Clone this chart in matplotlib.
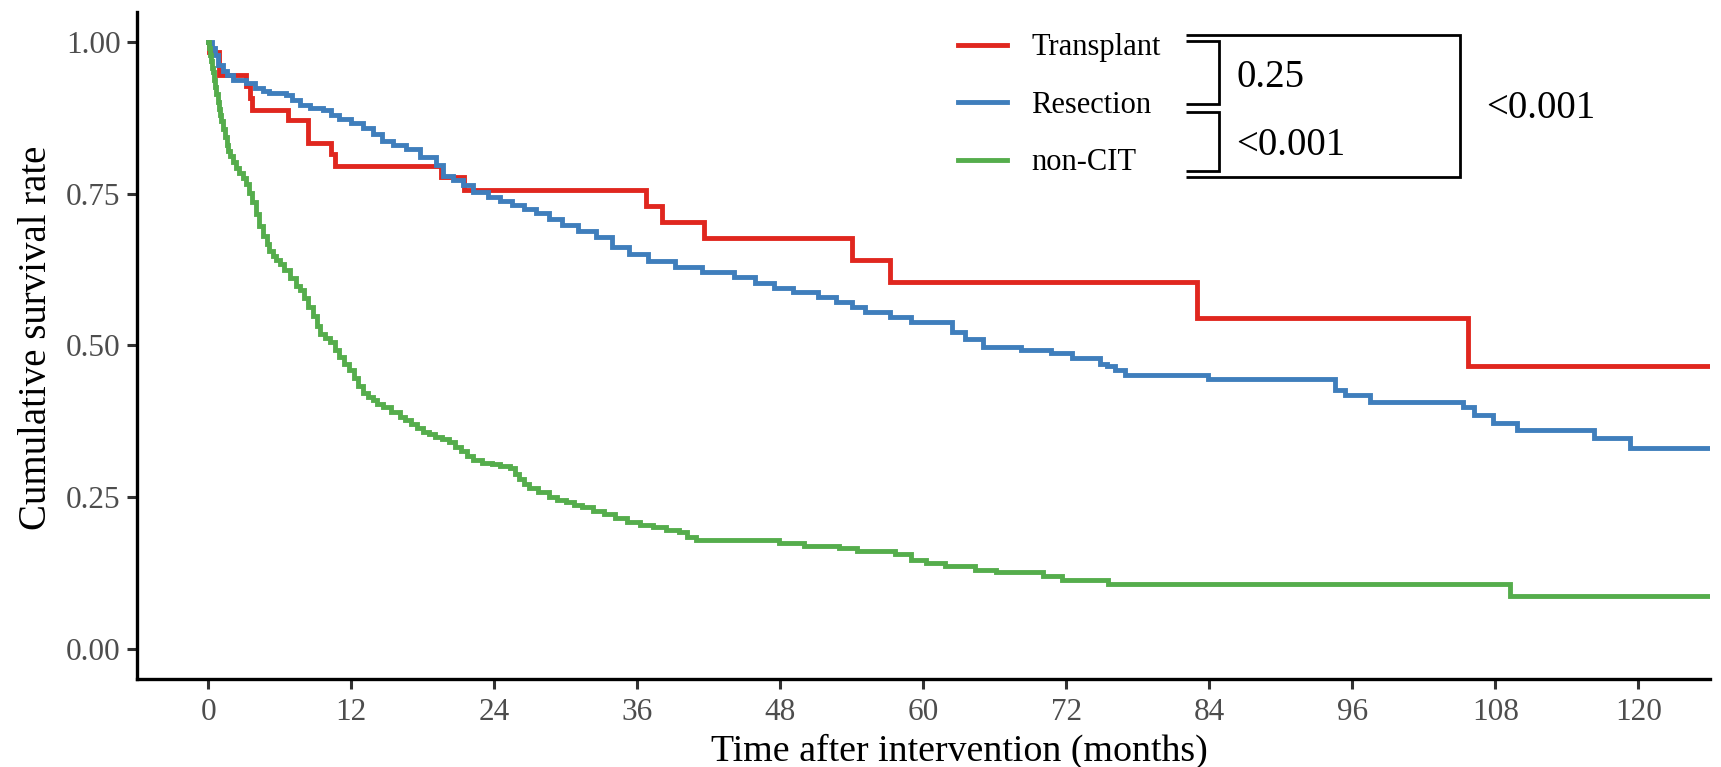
import matplotlib
matplotlib.use("Agg")
import matplotlib.pyplot as plt
from matplotlib.lines import Line2D

plt.rcParams["font.family"] = ["Liberation Serif", "DejaVu Serif"]

# Kaplan-Meier step curves (months, survival)
TRANSPLANT_T = [0, 0.1, 0.9, 3.2, 3.5, 3.7, 6.7, 8.4, 10.3, 10.6, 19.5, 21.5,
                36.7, 38.1, 41.6, 54.0, 57.2, 83.0, 105.7, 130]
TRANSPLANT_S = [1.0, 0.983, 0.946, 0.927, 0.908, 0.888, 0.871, 0.833, 0.815, 0.796, 0.777, 0.757,
                0.730, 0.704, 0.677, 0.641, 0.604, 0.545, 0.467, 0.467]

RESECTION_T = [0, 0.3, 0.55, 0.8, 1.2, 1.6, 2.1, 3.2, 3.9, 4.6, 5.1, 6.5, 7.0, 7.7, 8.5,
               9.6, 10.3, 11.0, 12.0, 13.0, 13.8, 14.6, 15.5, 16.6, 17.8, 19.1, 19.7, 20.5,
               21.4, 22.2, 23.5, 24.5, 25.5, 26.5, 27.5, 28.6, 29.7, 31.0, 32.5, 33.9, 35.3,
               36.9, 39.2, 41.4, 44.1, 45.9, 47.5, 49.1, 51.2, 52.7, 54.0, 55.1, 57.2, 59.0,
               62.4, 63.5, 65.0, 68.2, 70.7, 72.5, 74.8, 75.4, 76.1, 76.9, 83.9, 94.5, 95.4,
               97.5, 105.3, 106.2, 107.8, 109.8, 116.3, 119.3, 130]
RESECTION_S = [1.0, 0.99, 0.978, 0.963, 0.952, 0.946, 0.938, 0.933, 0.925, 0.92, 0.916, 0.912, 0.905, 0.896, 0.892,
               0.888, 0.88, 0.873, 0.866, 0.859, 0.848, 0.837, 0.83, 0.823, 0.81, 0.797, 0.78, 0.772,
               0.764, 0.753, 0.745, 0.738, 0.731, 0.725, 0.719, 0.708, 0.698, 0.688, 0.678, 0.663, 0.651,
               0.640, 0.629, 0.621, 0.6125, 0.603, 0.595, 0.588, 0.58, 0.571, 0.563, 0.555, 0.547, 0.5385,
               0.522, 0.51, 0.498, 0.493, 0.487, 0.48, 0.47, 0.467, 0.459, 0.452, 0.444, 0.4275, 0.418,
               0.407, 0.398, 0.385, 0.373, 0.361, 0.347, 0.331, 0.331]

NONCIT_T = [0, 0.08, 0.16, 0.24, 0.32, 0.4, 0.48, 0.56, 0.67, 0.78, 0.9, 1.0, 1.1, 1.25,
            1.4, 1.55, 1.65, 1.85, 2.1, 2.35, 2.6, 2.9, 3.2, 3.45, 3.7, 4.0, 4.3, 4.6, 4.9,
            5.14, 5.4, 5.7, 6.0, 6.4, 6.9, 7.4, 7.7, 8.0, 8.4, 8.8, 9.1, 9.4, 9.8, 10.2,
            10.6, 11.0, 11.4, 11.85, 12.2, 12.6, 13.0, 13.4, 13.8, 14.2, 14.65, 15.3, 16.05,
            16.5, 17.0, 17.5, 18.0, 18.5, 19.0, 19.6, 20.24, 20.7, 21.2, 21.7, 22.2, 23.0,
            23.8, 24.5, 25.3, 25.7, 26.1, 26.5, 26.95, 27.7, 28.6, 29.3, 30.0, 30.7, 31.4,
            32.3, 33.2, 34.1, 35.1, 36.2, 37.3, 38.4, 39.5, 40.2, 40.9,
            47.9, 50.0, 52.96, 54.4, 57.6, 59.0, 60.2, 61.8, 64.3, 66.1, 70.0, 71.6, 75.5,
            109.2, 130]
NONCIT_S = [1.0, 0.99, 0.978, 0.968, 0.958, 0.95, 0.938, 0.926, 0.914, 0.902, 0.89, 0.879, 0.87, 0.856,
            0.843, 0.83, 0.821, 0.812, 0.802, 0.793, 0.785, 0.776, 0.766, 0.752, 0.737, 0.717, 0.697, 0.68, 0.667,
            0.656, 0.648, 0.641, 0.634, 0.624, 0.611, 0.598, 0.592, 0.578, 0.563, 0.548, 0.532, 0.519, 0.512, 0.505,
            0.492, 0.481, 0.47, 0.459, 0.446, 0.433, 0.421, 0.415, 0.41, 0.404, 0.399, 0.39, 0.3825,
            0.377, 0.37, 0.364, 0.358, 0.354, 0.35, 0.346, 0.341, 0.333, 0.326, 0.318, 0.311, 0.307,
            0.304, 0.301, 0.298, 0.289, 0.28, 0.272, 0.265, 0.258, 0.251, 0.246, 0.242, 0.238, 0.2346,
            0.228, 0.222, 0.216, 0.21, 0.205, 0.2007, 0.196, 0.192, 0.185, 0.179,
            0.1745, 0.170, 0.1656, 0.1607, 0.156, 0.147, 0.1416, 0.137, 0.1306, 0.126, 0.1207, 0.114, 0.107,
            0.088, 0.088]

GROUPS = ["Transplant", "Resection", "non-CIT"]
COLORS = ["#E0271F", "#3F7EBC", "#55AD4C"]

# log-rank p-values: pairwise and overall
P_TRANS_RESEC = "0.25"
P_RESEC_NONCIT = "<0.001"
P_OVERALL = "<0.001"

W, H = 1721, 767
fig = plt.figure(figsize=(W / 100, H / 100), dpi=100)
ax = fig.add_axes([136.7 / W, (H - 679.3) / H, 1573.3 / W, 667.6 / H])

curves = [(TRANSPLANT_T, TRANSPLANT_S), (RESECTION_T, RESECTION_S), (NONCIT_T, NONCIT_S)]
handles = []
for (t, s), name, col in zip(curves, GROUPS, COLORS):
    h, = ax.step(t, s, where="post", color=col, lw=3.5, label=name, solid_joinstyle="miter")
    handles.append(h)

ax.set_xlim(-6, 126)
ax.set_ylim(-0.05, 1.05)
ax.set_xticks(range(0, 121, 12))
ax.set_yticks([0, 0.25, 0.5, 0.75, 1.0])
ax.yaxis.set_major_formatter(plt.FuncFormatter(lambda y, _: f"{y:.2f}"))

for side in ["top", "right"]:
    ax.spines[side].set_visible(False)
for side in ["left", "bottom"]:
    ax.spines[side].set_linewidth(2.4)
ax.tick_params(length=7, width=2.2, color="#333333", labelsize=22.5,
               labelcolor="#4D4D4D")
ax.tick_params(axis="x", pad=6.5)
ax.tick_params(axis="y", pad=4.5)

ax.set_xlabel("Time after intervention (months)", fontsize=27.3, va="center")
ax.set_ylabel("Cumulative survival rate", fontsize=28, va="center")
ax.xaxis.set_label_coords(0.5227, (679.3 - 751) / 667.6)
ax.yaxis.set_label_coords((36 - 136.7) / 1573.3, 0.512)

ax.legend(handles, GROUPS, loc="upper left", bbox_to_anchor=(958 / W, 1 - 33.5 / H),
          bbox_transform=fig.transFigure, frameon=False, fontsize=22,
          handlelength=1.6, handletextpad=0.8, labelspacing=0.93,
          borderpad=0, borderaxespad=0)

# comparison brackets, in figure pixels
def px_line(xs, ys):
    fig.add_artist(Line2D([x / W for x in xs], [1 - y / H for y in ys],
                          color="black", lw=2.0, solid_joinstyle="miter",
                          solid_capstyle="butt"))

px_line([1186, 1460, 1460, 1186], [34.5, 34.5, 176.5, 176.5])
px_line([1186, 1219, 1219, 1186], [41, 41, 104, 104])
px_line([1186, 1219, 1219, 1186], [112, 112, 171, 171])

fig.text(1236 / W, 1 - 77.5 / H, P_TRANS_RESEC, fontsize=28, va="center", ha="left")
fig.text(1236 / W, 1 - 145.5 / H, P_RESEC_NONCIT, fontsize=28, va="center", ha="left")
fig.text(1486 / W, 1 - 108.5 / H, P_OVERALL, fontsize=28, va="center", ha="left")

fig.savefig("out.png", dpi=100)
